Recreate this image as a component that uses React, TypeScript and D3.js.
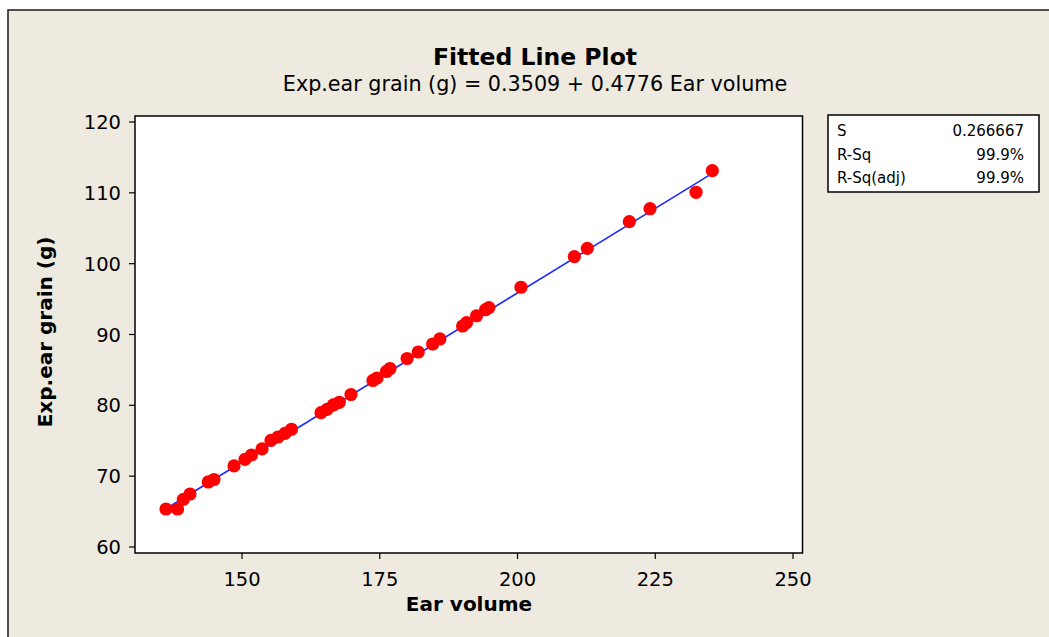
import React from "react";
import * as d3 from "d3";

const earVolume = [
  136.2, 138.3, 139.35, 140.56, 143.88, 144.92, 148.55, 150.54, 151.72, 153.63,
  155.26, 156.53, 157.8, 158.98, 164.34, 165.43, 166.57, 167.66, 169.78, 173.77,
  174.5, 176.22, 176.86, 179.96, 181.98, 184.59, 185.91, 190.03, 190.75, 192.57,
  194.2, 194.8, 200.63, 210.31, 212.67, 220.29, 224.05, 232.4, 235.35,
];
const earGrain = [
  65.36, 65.36, 66.73, 67.48, 69.18, 69.53, 71.44, 72.38, 72.99, 73.84,
  75.04, 75.53, 76.05, 76.62, 78.96, 79.44, 80.05, 80.43, 81.53, 83.51,
  83.86, 84.78, 85.2, 86.61, 87.53, 88.66, 89.37, 91.2, 91.67, 92.65,
  93.5, 93.8, 96.67, 100.99, 102.17, 105.93, 107.76, 110.08, 113.13,
];
const intercept = 0.3509;
const slope = 0.4776;
const xTicks = [150, 175, 200, 225, 250];
const yTicks = [60, 70, 80, 90, 100, 110, 120];
const statLabels = ["S", "R-Sq", "R-Sq(adj)"];
const statValues = ["0.266667", "99.9%", "99.9%"];

const W = 1049;
const H = 637;
const FONT = "'DejaVu Sans', Verdana, sans-serif";

export default function App() {
  const plot = { left: 135, right: 802.5, top: 116, bottom: 553 };
  const x = d3.scaleLinear().domain([130.58, 251.72]).range([plot.left, plot.right]);
  const y = d3.scaleLinear().domain([59.15, 120.85]).range([plot.bottom, plot.top]);

  const xMin = d3.min(earVolume) as number;
  const xMax = d3.max(earVolume) as number;
  const fitLine = d3
    .line<number>()
    .x((v) => x(v))
    .y((v) => y(intercept + slope * v));

  return (
    <svg
      width={W}
      height={H}
      style={{ position: "fixed", left: 0, top: 0, display: "block" }}
      fontFamily={FONT}
    >
      <rect x={0} y={0} width={W} height={H} fill="#ffffff" />
      <rect x={8} y={10} width={W + 50} height={H + 50} fill="#EEEAE0" stroke="#1a1a1a" strokeWidth={1.5} />

      <text x={535} y={65} textAnchor="middle" fontWeight="bold" fontSize={23.5} fill="#000">
        Fitted Line Plot
      </text>
      <text x={535} y={91} textAnchor="middle" fontSize={20.7} fill="#000">
        Exp.ear grain (g) = 0.3509 + 0.4776 Ear volume
      </text>

      <rect
        x={plot.left}
        y={plot.top}
        width={plot.right - plot.left}
        height={plot.bottom - plot.top}
        fill="#ffffff"
        stroke="#000"
        strokeWidth={1.5}
      />

      {yTicks.map((t) => (
        <g key={"y" + t}>
          <line x1={plot.left - 6} x2={plot.left} y1={y(t)} y2={y(t)} stroke="#000" strokeWidth={1.2} />
          <text x={plot.left - 14} y={y(t) + 7} textAnchor="end" fontSize={19.5} fill="#000">
            {t}
          </text>
        </g>
      ))}
      {xTicks.map((t) => (
        <g key={"x" + t}>
          <line x1={x(t)} x2={x(t)} y1={plot.bottom} y2={plot.bottom + 6} stroke="#000" strokeWidth={1.2} />
          <text x={x(t)} y={plot.bottom + 33} textAnchor="middle" fontSize={19.5} fill="#000">
            {t}
          </text>
        </g>
      ))}

      <text x={469} y={611} textAnchor="middle" fontWeight="bold" fontSize={20} fill="#000">
        Ear volume
      </text>
      <text
        transform={`translate(52,332) rotate(-90)`}
        textAnchor="middle"
        fontWeight="bold"
        fontSize={20}
        fill="#000"
      >
        Exp.ear grain (g)
      </text>

      <path d={fitLine([xMin, xMax]) || ""} stroke="#1f2bff" strokeWidth={1.6} fill="none" />

      {earVolume.map((v, i) => (
        <circle key={i} cx={x(v)} cy={y(earGrain[i])} r={6.6} fill="#ff0000" />
      ))}

      <rect x={828} y={115} width={211} height={77} fill="#ffffff" stroke="#000" strokeWidth={1.5} />
      {statLabels.map((s, i) => (
        <g key={s}>
          <text x={837} y={136 + i * 23.5} fontSize={15} fill="#000">
            {s}
          </text>
          <text x={1024} y={136 + i * 23.5} fontSize={15} textAnchor="end" fill="#000">
            {statValues[i]}
          </text>
        </g>
      ))}
    </svg>
  );
}
